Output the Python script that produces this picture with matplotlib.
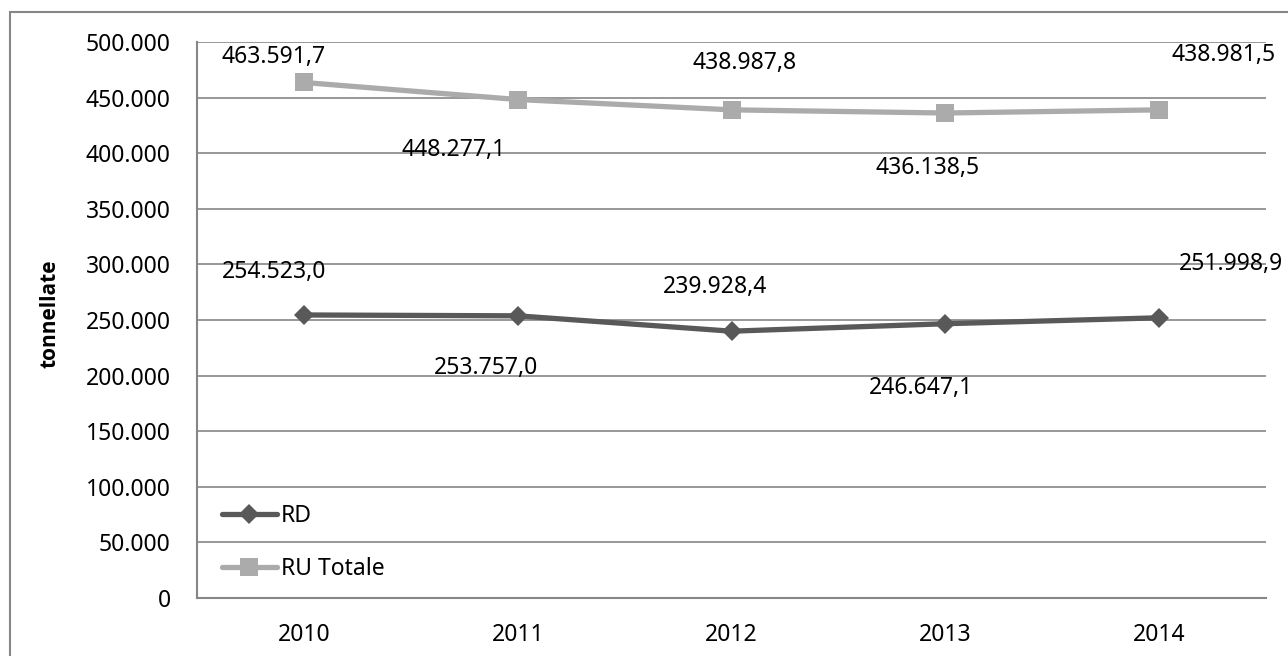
import matplotlib.pyplot as plt
from matplotlib.patches import Rectangle

plt.rcParams['font.family'] = ['Noto Sans', 'DejaVu Sans']

years = ['2010', '2011', '2012', '2013', '2014']
rd = [254523.0, 253757.0, 239928.4, 246647.1, 251998.9]
ru_totale = [463591.7, 448277.1, 438987.8, 436138.5, 438981.5]

# label offsets in pixels (dx, dy) from each point, as placed in the original
rd_offsets = [(-30, 43), (-32, -52), (-16, 44), (-24, -64), (72, 54)]
ru_offsets = [(-30, 25), (-64, -50), (13, 47), (-18, -55), (64, 55)]


def it_fmt(v, dec=0):
    s = f'{v:,.{dec}f}'
    return s.replace(',', 'X').replace('.', ',').replace('X', '.')


fig = plt.figure(figsize=(12.88, 6.56), dpi=100)
ax = fig.add_axes([197/1288, 58/656, 1069/1288, 556/656])

grid_c = '#868686'
rd_c = '#595959'
ru_c = '#ababab'

x = list(range(len(years)))
ax.plot(x, rd, color=rd_c, lw=3.8, marker='D', ms=10.5, mec=rd_c, mew=0,
        label='RD', solid_capstyle='round')
ax.plot(x, ru_totale, color=ru_c, lw=3.8, marker='s', ms=13.5, mec=ru_c, mew=0,
        label='RU Totale', solid_capstyle='round')

for i in x:
    ax.annotate(it_fmt(rd[i], 1), (i, rd[i]), xytext=rd_offsets[i],
                textcoords='offset pixels', ha='center', va='center',
                fontsize=16.5, color='black')
    ax.annotate(it_fmt(ru_totale[i], 1), (i, ru_totale[i]), xytext=ru_offsets[i],
                textcoords='offset pixels', ha='center', va='center',
                fontsize=16.5, color='black', annotation_clip=False)

ax.set_xlim(-0.5, 4.5)
ax.set_ylim(0, 500000)
ax.set_xticks(x)
ax.set_xticklabels(years)
yt = list(range(0, 500001, 50000))
ax.set_yticks(yt)
ax.set_yticklabels([it_fmt(v) for v in yt])
ax.tick_params(axis='both', length=0, labelsize=16.5)
ax.tick_params(axis='y', pad=19)
ax.tick_params(axis='x', pad=18)

ax.grid(axis='y', color=grid_c, lw=1.2)
ax.set_axisbelow(True)
for side in ['top', 'right']:
    ax.spines[side].set_visible(False)
for side in ['left', 'bottom']:
    ax.spines[side].set_color(grid_c)
    ax.spines[side].set_linewidth(1.5)

fig.text(50/1288, 1 - 314/656, 'tonnellate', rotation=90, ha='center',
         va='center', fontsize=15, fontweight='bold',
         family=['Open Sans', 'DejaVu Sans'])

leg = ax.legend(loc='lower left', bbox_to_anchor=(0.023, 0.03), frameon=False,
                borderpad=0, borderaxespad=0, fontsize=16.5, handlelength=2.4,
                handletextpad=0.2, labelspacing=1.3)

# outer chart border
fig.patches.append(Rectangle((10/1288, -0.1), 1.2, 1.1 - 12/656,
                             transform=fig.transFigure, fill=False,
                             edgecolor=grid_c, lw=1.5))

fig.savefig('out.png', dpi=100)
